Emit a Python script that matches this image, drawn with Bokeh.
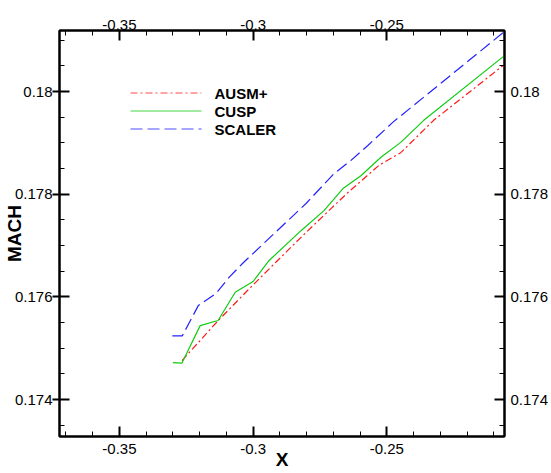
import numpy as np
from bokeh.plotting import figure
from bokeh.models import (LinearAxis, FixedTicker, CustomJSTickFormatter, Range1d,
                          Arrow, Label)
from bokeh.embed import file_html
from bokeh.resources import INLINE

# ---- data ----
ausm_x = [-0.3266, -0.3132, -0.3020, -0.2914, -0.2821, -0.2709, -0.2646,
          -0.2530, -0.2448, -0.2325, -0.2060]
ausm_y = [0.17476, 0.17553, 0.17613, 0.17668, 0.17716, 0.17772, 0.17803,
          0.17856, 0.17881, 0.17944, 0.18053]

cusp_x = [-0.3300, -0.3266, -0.3198, -0.3131, -0.3067, -0.3000, -0.2940,
          -0.2821, -0.2735, -0.2664, -0.2597, -0.2522, -0.2448, -0.2362, -0.2060]
cusp_y = [0.17472, 0.17471, 0.17544, 0.17554, 0.17609, 0.17630, 0.17671,
          0.17729, 0.17768, 0.17811, 0.17836, 0.17872, 0.17901, 0.17944, 0.18070]

scaler_x = [-0.3302, -0.3265, -0.3205, -0.3138, -0.3090, -0.3034, -0.2802,
            -0.2698, -0.2634, -0.2571, -0.2478, -0.2060]
scaler_y = [0.17524, 0.17524, 0.17583, 0.17607, 0.17638, 0.17668, 0.17782,
            0.17840, 0.17866, 0.17895, 0.17940, 0.18117]

series_names = ["AUSM+", "CUSP", "SCALER"]
series_colors = ["#ff1a1a", "#11cc11", "#2222ff"]
series_dashes = ["7 3 2 3", "solid", "12 5"]

x_major = [-0.35, -0.30, -0.25]
x_minor = [round(-0.37 + 0.01 * i, 4) for i in range(17)]
y_major = [0.174, 0.176, 0.178, 0.180]
y_minor = [round(0.1735 + 0.0005 * i, 5) for i in range(16)]

x_lo, x_hi = -0.3724, -0.2060
y_lo, y_hi = 0.17328, 0.18119

FONT = "Liberation Sans"

p = figure(width=551, height=473, output_backend="svg", toolbar_location=None,
           x_range=Range1d(x_lo, x_hi), y_range=Range1d(y_lo, y_hi),
           x_axis_location=None, y_axis_location=None,
           min_border_left=58, min_border_right=47, min_border_top=30,
           min_border_bottom=37)
p.xgrid.visible = False
p.ygrid.visible = False
p.outline_line_color = "black"
p.outline_line_width = 2
p.background_fill_color = "white"
p.border_fill_color = "white"

fmt_code = "return String(Math.round(tick*1e6)/1e6);"


def make_axis(major, minor, standoff, tick_out):
    ax = LinearAxis(ticker=FixedTicker(ticks=major, minor_ticks=minor),
                    formatter=CustomJSTickFormatter(code=fmt_code))
    ax.major_label_text_font = FONT
    ax.major_label_text_font_size = "15px"
    ax.major_label_text_color = "black"
    ax.major_label_standoff = standoff
    ax.major_tick_in = 10
    ax.major_tick_out = tick_out
    ax.minor_tick_in = 5
    ax.minor_tick_out = 0
    ax.axis_line_width = 2
    ax.axis_line_color = "black"
    ax.major_tick_line_width = 2
    ax.minor_tick_line_width = 1
    ax.axis_label_text_font = FONT
    ax.axis_label_text_font_style = "bold"
    ax.axis_label_text_font_size = "19px"
    ax.axis_label_text_color = "black"
    return ax


bottom = make_axis(x_major, x_minor, 7, 0)
bottom.axis_label = "X"
bottom.axis_label_standoff = -8
p.add_layout(bottom, "below")
p.add_layout(make_axis(x_major, x_minor, 1, 0), "above")
left = make_axis(y_major, y_minor, 0, 7)
left.axis_label = "MACH"
left.axis_label_standoff = -13
p.add_layout(left, "left")
p.add_layout(make_axis(y_major, y_minor, 6, 0), "right")

all_x = [ausm_x, cusp_x, scaler_x]
all_y = [ausm_y, cusp_y, scaler_y]
for xs, ys, c, d in zip(all_x, all_y, series_colors, series_dashes):
    p.line(xs, ys, line_color=c, line_width=1.2, line_dash=d)

# legend (screen units, relative to the plot frame's lower-left corner)
leg_x0, leg_x1, leg_text_x = 71, 142, 155
leg_y_top, leg_row = 343, 18
for i, (name, c, d) in enumerate(zip(series_names, series_colors, series_dashes)):
    yy = leg_y_top - i * leg_row + 0.5
    p.add_layout(Arrow(x_start=leg_x0, y_start=yy, x_end=leg_x1, y_end=yy,
                       start_units="screen", end_units="screen",
                       start=None, end=None, line_color=c, line_width=1.2,
                       line_alpha=0.8, line_dash=d))
    p.add_layout(Label(x=leg_text_x, y=yy, x_units="screen", y_units="screen",
                       text=name, text_align="left", text_baseline="middle",
                       text_font=FONT, text_font_style="bold",
                       text_font_size="15px", text_color="black"))

open("out.html", "w").write(file_html(p, INLINE))
